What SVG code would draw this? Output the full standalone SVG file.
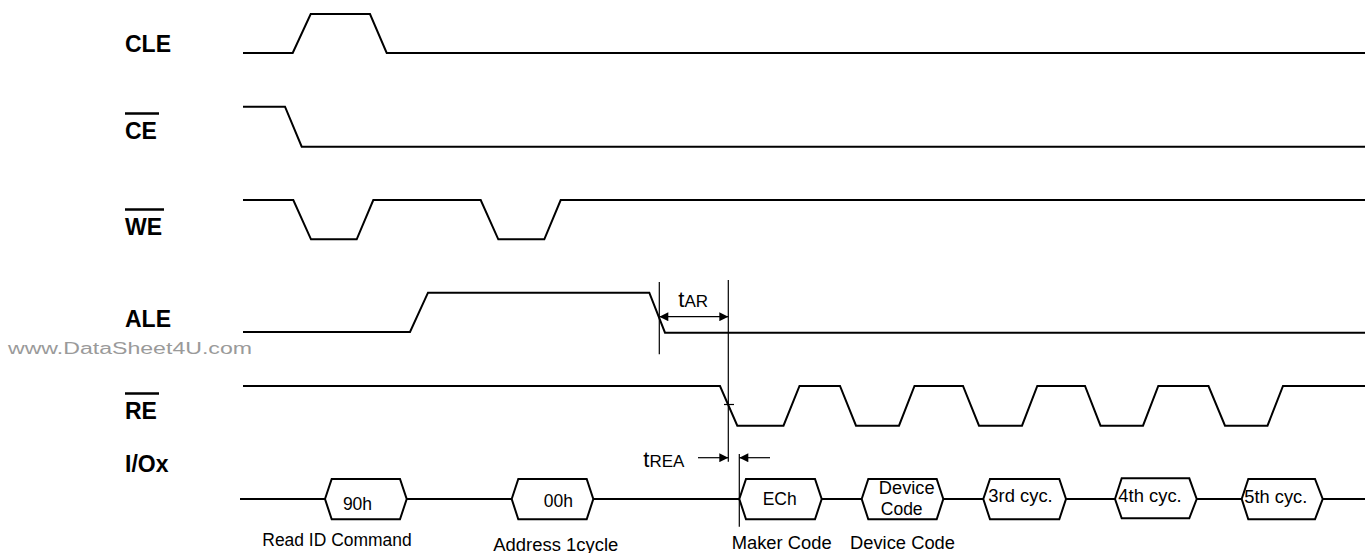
<svg xmlns="http://www.w3.org/2000/svg" width="1365" height="553" viewBox="0 0 1365 553">
<style>
.wave{fill:none;stroke:#000;stroke-width:2;stroke-linejoin:miter}
.hex{fill:#fff;stroke:#000;stroke-width:2}
.thin{fill:none;stroke:#000;stroke-width:1.2}
.ovl{stroke:#000;stroke-width:2.5}
.lbl{font-family:"Liberation Sans",Arial,sans-serif;font-weight:bold;font-size:23px;fill:#000}
.txt{font-family:"Liberation Sans",Arial,sans-serif;font-size:17.5px;fill:#000}
.wm{font-family:"Liberation Sans",Arial,sans-serif;font-size:16px;fill:#9a9a9a}
</style>
<defs>
<marker id="ah" viewBox="0 0 10 10" refX="10" refY="5" markerWidth="10" markerHeight="9" markerUnits="userSpaceOnUse" orient="auto">
<path d="M0,0 L10,5 L0,10 Z" fill="#000"/>
</marker>
</defs>
<rect width="1365" height="553" fill="#fff"/>

<g id="watermark"><text class="wm" x="8" y="354" textLength="244" lengthAdjust="spacingAndGlyphs">www.DataSheet4U.com</text></g>

<g id="cle">
<text class="lbl" x="125" y="52">CLE</text>
<polyline class="wave" points="243,53 292.7,53 310.7,14 370,14 386.7,53 1365,53"/>
</g>
<g id="ce">
<line class="ovl" x1="125" y1="113.5" x2="159" y2="113.5"/>
<text class="lbl" x="125" y="138.5">CE</text>
<polyline class="wave" points="243,106.7 285,106.7 301.7,146.7 1365,146.7"/>
</g>
<g id="we">
<line class="ovl" x1="125" y1="209.5" x2="164" y2="209.5"/>
<text class="lbl" x="125" y="234.5">WE</text>
<polyline class="wave" points="243,200 293.3,200 311,239.3 356.7,239.3 373.3,200 480.7,200 498.3,239.3 544.3,239.3 560.7,200 1365,200"/>
</g>
<g id="ale">
<text class="lbl" x="125" y="327">ALE</text>
<polyline class="wave" points="243,332 410,332 428,292.7 649.3,292.7 665,332.7 1365,332.7"/>
</g>
<g id="re">
<line class="ovl" x1="125" y1="393.5" x2="159" y2="393.5"/>
<text class="lbl" x="125" y="419">RE</text>
<polyline class="wave" points="243,386 720,386 737.3,425.7 783.5,425.7 799.5,386 840,386 856,425.7 899,425.7 914.5,386 963,386 979,425.7 1022,425.7 1037.3,386 1085,386 1100.5,425.7 1143,425.7 1158.3,386 1208.5,386 1225,425.7 1267.5,425.7 1283,386 1365,386"/>
<line class="thin" x1="724" y1="404.5" x2="734" y2="404.5"/>
</g>
<g id="io">
<text class="lbl" x="125" y="472">I/Ox</text>
<polyline class="wave" points="240,499 325,499"/>
<polyline class="wave" points="406.7,499 511.7,499"/>
<polyline class="wave" points="593.3,499 739.3,499"/>
<polyline class="wave" points="821.7,499 861.7,499"/>
<polyline class="wave" points="943.3,499 983.3,499"/>
<polyline class="wave" points="1066,499 1115,499"/>
<polyline class="wave" points="1196.7,499 1241.7,499"/>
<polyline class="wave" points="1322.7,499 1365,499"/>
</g>
<g id="d90h">
<polygon class="hex" points="325,499 331.7,479 400,479 406.7,499 400,519.3 331.7,519.3"/>
<text class="txt" x="357.5" y="510" text-anchor="middle">90h</text>
</g>
<g id="d00h">
<polygon class="hex" points="511.7,499 518.3,479 586.7,479 593.3,499 586.7,519.3 518.3,519.3"/>
<text class="txt" x="558.3" y="506.5" text-anchor="middle">00h</text>
</g>
<g id="dECh">
<polygon class="hex" points="739.3,499 746,479 815,479 821.7,499 815,519.3 746,519.3"/>
<text class="txt" x="779.7" y="505" text-anchor="middle">ECh</text>
</g>
<g id="ddev">
<polygon class="hex" points="861.7,499 868.3,479 936.7,479 943.3,499 936.7,519.3 868.3,519.3"/>
<text class="txt" x="906.7" y="494" text-anchor="middle" textLength="55.7" lengthAdjust="spacingAndGlyphs">Device</text>
<text class="txt" x="901.7" y="515" text-anchor="middle">Code</text>
</g>
<g id="d3rd">
<polygon class="hex" points="983.3,499 990,479 1059.3,479 1066,499 1059.3,519.3 990,519.3"/>
<text class="txt" x="988.3" y="502" textLength="64.4" lengthAdjust="spacingAndGlyphs">3rd cyc.</text>
</g>
<g id="d4th">
<polygon class="hex" points="1115,499 1121.7,478.3 1189.3,478.3 1196.7,499 1189.3,518.3 1121.7,518.3"/>
<text class="txt" x="1118.3" y="502" textLength="63.4" lengthAdjust="spacingAndGlyphs">4th cyc.</text>
</g>
<g id="d5th">
<polygon class="hex" points="1241.7,499 1248.3,479 1315,479 1322.7,499 1315,519.3 1248.3,519.3"/>
<text class="txt" x="1244.3" y="503" textLength="63" lengthAdjust="spacingAndGlyphs">5th cyc.</text>
</g>

<g id="captions">
<text class="txt" x="262.3" y="546" textLength="149.4" lengthAdjust="spacingAndGlyphs">Read ID Command</text>
<text class="txt" x="493.3" y="551" textLength="125" lengthAdjust="spacingAndGlyphs">Address 1cycle</text>
<text class="txt" x="731.7" y="549" textLength="100" lengthAdjust="spacingAndGlyphs">Maker Code</text>
<text class="txt" x="850" y="549" textLength="105" lengthAdjust="spacingAndGlyphs">Device Code</text>
</g>

<g id="connectors">
<line class="thin" x1="659.3" y1="282" x2="659.3" y2="354.3"/>
<line class="thin" x1="728.3" y1="280" x2="728.3" y2="461.7"/>
<line class="thin" x1="739.3" y1="454" x2="739.3" y2="526.7"/>
<line class="thin" x1="694" y1="316.7" x2="659.3" y2="316.7" marker-end="url(#ah)"/>
<line class="thin" x1="694" y1="316.7" x2="728.3" y2="316.7" marker-end="url(#ah)"/>
<line class="thin" x1="698" y1="457.7" x2="728.3" y2="457.7" marker-end="url(#ah)"/>
<line class="thin" x1="770" y1="457.7" x2="739.3" y2="457.7" marker-end="url(#ah)"/>
<text class="txt" x="678.3" y="306.7"><tspan font-size="22">t</tspan><tspan font-size="17">AR</tspan></text>
<text class="txt" x="643.3" y="467"><tspan font-size="22">t</tspan><tspan font-size="17">REA</tspan></text>
</g>
</svg>
